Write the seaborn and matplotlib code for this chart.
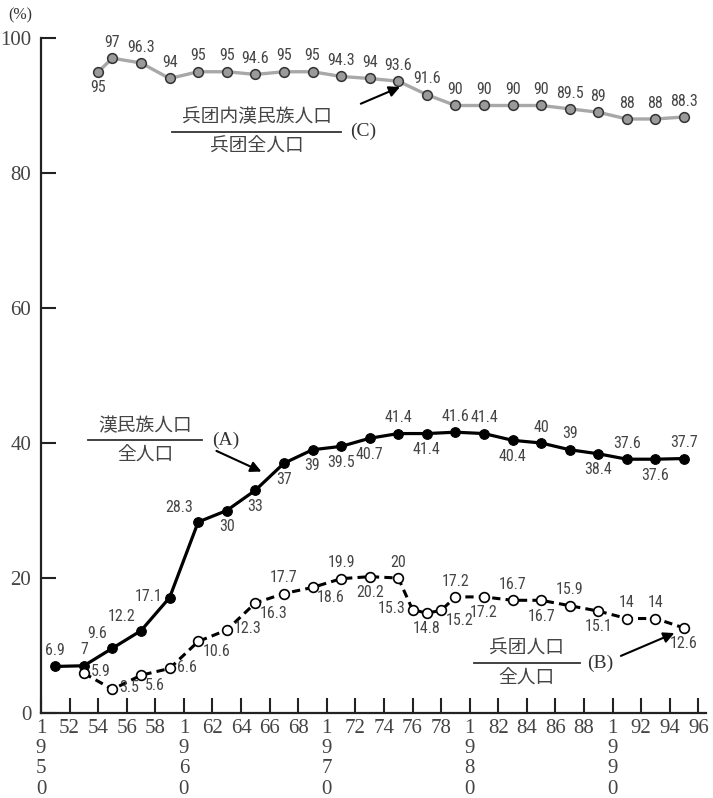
import matplotlib
matplotlib.use("Agg")
import matplotlib.pyplot as plt
from matplotlib import font_manager
import pandas as pd
import seaborn as sns

# --- data ---
years_a = [1951, 1953, 1955, 1957, 1959, 1961, 1963, 1965, 1967, 1969, 1971, 1973,
           1975, 1977, 1979, 1981, 1983, 1985, 1987, 1989, 1991, 1993, 1995]
han_share = [6.9, 7, 9.6, 12.2, 17.1, 28.3, 30, 33, 37, 39, 39.5, 40.7,
             41.4, 41.4, 41.6, 41.4, 40.4, 40, 39, 38.4, 37.6, 37.6, 37.7]

years_b = [1953, 1955, 1957, 1959, 1961, 1963, 1965, 1967, 1969, 1971, 1973, 1975,
           1976, 1977, 1978, 1979, 1981, 1983, 1985, 1987, 1989, 1991, 1993, 1995]
bingtuan_share = [5.9, 3.5, 5.6, 6.6, 10.6, 12.3, 16.3, 17.7, 18.6, 19.9, 20.2, 20,
                  15.3, 14.8, 15.2, 17.2, 17.2, 16.7, 16.7, 15.9, 15.1, 14, 14, 12.6]

years_c = [1954, 1955, 1957, 1959, 1961, 1963, 1965, 1967, 1969, 1971, 1973, 1975,
           1977, 1979, 1981, 1983, 1985, 1987, 1989, 1991, 1993, 1995]
han_in_bingtuan = [95, 97, 96.3, 94, 95, 95, 94.6, 95, 95, 94.3, 94, 93.6,
                   91.6, 90, 90, 90, 90, 89.5, 89, 88, 88, 88.3]

x_ticks = list(range(1950, 1997, 2))
y_ticks = [0, 20, 40, 60, 80, 100]

# label placement per point (a=above, b=below, l=left, r=right)
pos_a = ['a', 'a', 'al', 'al', 'l', 'al', 'b', 'b', 'b', 'b', 'b', 'b',
         'a', 'b', 'a', 'a', 'b', 'a', 'a', 'b', 'a', 'b', 'a']
pos_b = ['r', 'r', 'br', 'r', 'br', 'r', 'br', 'a', 'br', 'a', 'b', 'a',
         'l', 'b', 'br', 'a', 'b', 'a', 'b', 'a', 'b', 'a', 'a', 'b']
pos_c = ['b'] + ['a'] * (len(years_c) - 1)


def pick(fams):
    for f in fams:
        try:
            font_manager.findfont(f, fallback_to_default=False)
            return f
        except Exception:
            pass
    return 'DejaVu Sans'


NARROW = pick(['Liberation Sans Narrow', 'Roboto Condensed', 'Liberation Sans'])
SERIF = pick(['Liberation Serif', 'DejaVu Serif'])
CJK = ['Noto Sans CJK JP', 'DejaVu Sans']

plt.rcParams['font.family'] = SERIF

fig = plt.figure(figsize=(7.13, 7.98), dpi=100)
ax = fig.add_axes([0.0575, 0.1065, 0.932, 0.8459])

df_a = pd.DataFrame({'year': years_a, 'pct': han_share})
df_b = pd.DataFrame({'year': years_b, 'pct': bingtuan_share})
df_c = pd.DataFrame({'year': years_c, 'pct': han_in_bingtuan})

sns.lineplot(data=df_c, x='year', y='pct', ax=ax, color='#a8a8a8', linewidth=2.4,
             marker='o', markersize=7, markerfacecolor='#9a9a9a',
             markeredgecolor='#333333', markeredgewidth=1.1, clip_on=False)
sns.lineplot(data=df_a, x='year', y='pct', ax=ax, color='black', linewidth=2.3,
             marker='o', markersize=7, markerfacecolor='black',
             markeredgecolor='black', clip_on=False)
sns.lineplot(data=df_b, x='year', y='pct', ax=ax, color='black', linewidth=2.2,
             marker='o', markersize=7, markerfacecolor='white',
             markeredgecolor='black', markeredgewidth=1.2, clip_on=False)
ax.lines[-1].set_dashes([2.7, 1.7])

off = {'a': (0, 6, 'center', 'bottom'), 'b': (0, -6, 'center', 'top'),
       'l': (-5, 1, 'right', 'center'), 'r': (5, 1, 'left', 'center'),
       'al': (-4, 5, 'right', 'bottom'), 'br': (3, -2, 'left', 'top')}


def label(xs, ys, poss):
    for x, y, p in zip(xs, ys, poss):
        dx, dy, ha, va = off[p]
        ax.annotate(f'{y:g}', (x, y), xytext=(dx, dy), textcoords='offset points',
                    ha=ha, va=va, fontsize=11.5, family=NARROW, color='#454545')


label(years_a, han_share, pos_a)
label(years_b, bingtuan_share, pos_b)
label(years_c, han_in_bingtuan, pos_c)

# axes styling
ax.set_xlim(1950, 1996.5)
ax.set_ylim(0, 100)
for s in ['top', 'right']:
    ax.spines[s].set_visible(False)
for s in ['left', 'bottom']:
    ax.spines[s].set_linewidth(1.6)
    ax.spines[s].set_color('#222222')
ax.set_xticks(x_ticks)
ax.set_xticklabels(['\n'.join(str(t)) if t % 10 == 0 else str(t)[2:] for t in x_ticks],
                   linespacing=1.1)
ax.set_yticks(y_ticks)
ax.tick_params(axis='both', direction='in', length=11, width=1.5, color='#222222',
               labelsize=15, labelcolor='#444444')
ax.tick_params(axis='x', pad=4)
ax.tick_params(axis='y', pad=7)
ax.set_xlabel('')
ax.set_ylabel('')
fig.text(0.012, 0.981, '(%)', fontsize=11.5, color='#333333', va='center', ha='left')

# fraction annotations
def fraction(xc, yc, top, bottom, half, tag, tag_x):
    ax.annotate(top, (xc, yc), xytext=(0, 3), textcoords='offset points',
                ha='center', va='bottom', fontsize=13.5, family=CJK, color='#444444')
    ax.annotate(bottom, (xc, yc), xytext=(0, -3), textcoords='offset points',
                ha='center', va='top', fontsize=13.5, family=CJK, color='#444444')
    ax.plot([xc - half, xc + half], [yc, yc], color='#333333', lw=1.3)
    ax.text(tag_x, yc, tag, fontsize=14, va='center', ha='left', color='#333333')


fraction(1957.3, 40.4, '漢民族人口', '全人口', 4.0, '(A)', 1962.0)
ax.annotate('', xy=(1965.6, 35.6), xytext=(1962.1, 39.0),
            arrowprops=dict(arrowstyle='-|>', color='black', lw=1.5, mutation_scale=16))

fraction(1965.1, 86.1, '兵团内漢民族人口', '兵团全人口', 5.9, '(C)', 1971.6)
ax.annotate('', xy=(1975.3, 92.9), xytext=(1972.2, 90.1),
            arrowprops=dict(arrowstyle='-|>', color='black', lw=1.5, mutation_scale=16))

fraction(1984.0, 7.4, '兵团人口', '全人口', 3.7, '(B)', 1988.2)
ax.annotate('', xy=(1994.5, 12.0), xytext=(1990.4, 8.3),
            arrowprops=dict(arrowstyle='-|>', color='black', lw=1.5, mutation_scale=16))

fig.savefig('out.png', dpi=100, facecolor='white')
